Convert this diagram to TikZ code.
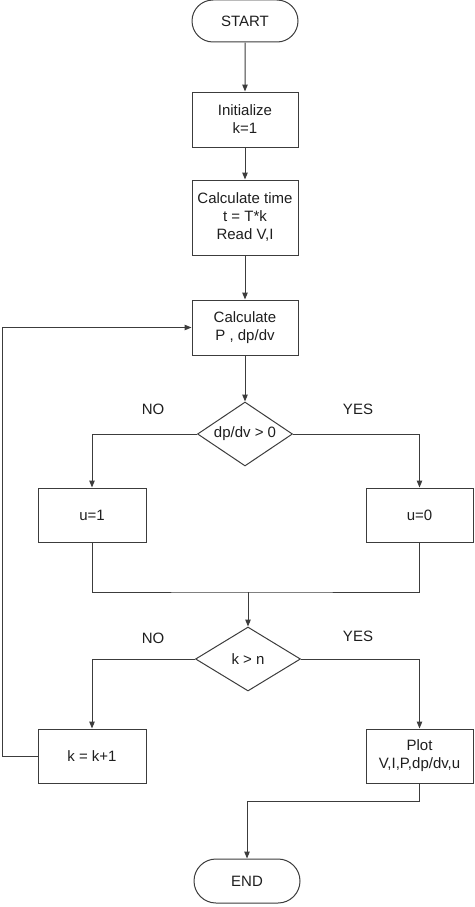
\documentclass[tikz,border=0pt]{standalone}
\usepackage{fontspec}
\setmainfont{Liberation Sans}
\usetikzlibrary{shapes.geometric,shapes.misc,arrows.meta}
\definecolor{lc}{RGB}{60,60,60}
\definecolor{tc}{RGB}{30,30,30}
\begin{document}
\begin{tikzpicture}[x=1pt,y=-1pt,
  txt/.style={text=tc, font=\fontsize{15}{18}\selectfont},
  line/.style={draw=lc, line width=1pt},
  arr/.style={line, -{Triangle[length=7pt,width=5.5pt]}},
  box/.style={txt, draw=lc, line width=1pt, rectangle, inner sep=0pt, align=center},
  term/.style={txt, draw=lc, line width=1pt, rounded rectangle, inner sep=0pt, minimum width=106pt, minimum height=42pt},
  dec/.style={txt, draw=lc, line width=1pt, diamond, inner sep=0pt},
  lbl/.style={txt}]
\useasboundingbox (0,0) rectangle (474,907);
\node[term] (start) at (245,21) {START};
\node[box, minimum width=106pt, minimum height=55pt] (init) at (245,119.5) {Initialize\\k=1};
\node[box, minimum width=106pt, minimum height=75pt] (calct) at (245,217.5) {Calculate time\\t = T*k\\Read V,I};
\node[box, minimum width=106pt, minimum height=55pt] (calcp) at (245,327.5) {Calculate\\P , dp/dv};
\node[dec, aspect=1.48, minimum width=95pt, minimum height=64pt] (d1) at (245,434) {dp/dv > 0};
\node[box, minimum width=108pt, minimum height=54pt] (u1) at (92,515) {u=1};
\node[box, minimum width=107pt, minimum height=54pt] (u0) at (419.5,515) {u=0};
\node[dec, aspect=1.64, minimum width=105pt, minimum height=64pt] (d2) at (248,659) {k > n};
\node[box, minimum width=108pt, minimum height=54pt] (k1) at (92,756) {k = k+1};
\node[box, minimum width=107pt, minimum height=54pt] (plot) at (419.5,756) {Plot\\V,I,P,dp/dv,u};
\node[term, minimum height=44pt] (end) at (247,881) {END};
\node[lbl] (no1) at (153,409) {NO};
\node[lbl] (yes1) at (358,409) {YES};
\node[lbl] (no2) at (153,638) {NO};
\node[lbl] (yes2) at (358,636) {YES};
\coordinate (m) at (248,592);
\coordinate (lp) at (2,756);
\coordinate (pe) at (247,801);
\draw[arr] (start) -- (init);
\draw[arr] (init) -- (calct);
\draw[arr] (calct) -- (calcp);
\draw[arr] (calcp) -- (d1);
\draw[arr] (d1.west) -| (u1.north);
\draw[arr] (d1.east) -| (u0.north);
\draw[line] (u1.south) |- (m) -| (u0.south);
\draw[arr] (m) -- (d2.north);
\draw[arr] (d2.west) -| (k1.north);
\draw[arr] (d2.east) -| (plot.north);
\draw[arr] (k1.west) -- (lp) |- (calcp.west);
\draw[arr] (plot.south) |- (pe) -- (end.north);
\end{tikzpicture}
\end{document}
